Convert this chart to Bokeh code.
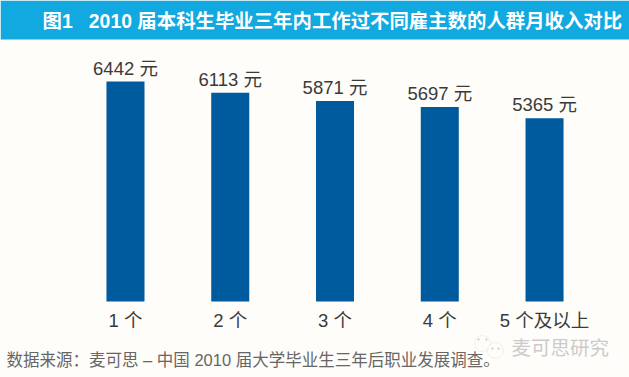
from bokeh.plotting import figure
from bokeh.models import BoxAnnotation, Label, ColumnDataSource, FixedTicker, Range1d
from bokeh.core.properties import value
from bokeh.embed import file_html
from bokeh.resources import INLINE

positions = [0, 1, 2, 3, 4]
categories = ["1 个", "2 个", "3 个", "4 个", "5 个及以上"]
incomes = [6442, 6113, 5871, 5697, 5365]
value_labels = ["6442 元", "6113 元", "5871 元", "5697 元", "5365 元"]
title_text = "图1\u00a0\u00a0\u00a02010 届本科生毕业三年内工作过不同雇主数的人群月收入对比"
source_text = "数据来源\uff1a麦可思 – 中国 2010 届大学毕业生三年后职业发展调查。"
watermark_text = "麦可思研究"

FONT = "Liberation Sans, Noto Sans CJK SC"
W, H = 629, 377
BG = "#FEFDF9"
PX = 6442 / 220  # data units per pixel

p = figure(width=W, height=H, output_backend="svg", toolbar_location=None,
           x_range=Range1d(-1.193, 4.811), y_range=Range1d(-76 * PX, 301 * PX),
           min_border_left=0, min_border_right=0, min_border_top=0, min_border_bottom=0,
           background_fill_color=BG, border_fill_color=BG,
           outline_line_color=None)
p.grid.visible = False
p.yaxis.visible = False
ax = p.xaxis[0]
ax.fixed_location = 0
ax.ticker = FixedTicker(ticks=positions)
ax.major_label_overrides = {a: b for a, b in zip(positions, categories)}
ax.axis_line_color = None
ax.major_tick_line_color = None
ax.minor_tick_line_color = None
ax.major_label_standoff = 2
ax.major_label_text_font = FONT
ax.major_label_text_font_size = "18.5px"
ax.major_label_text_color = "#3A3A3A"

src = ColumnDataSource(dict(x=positions, top=incomes, label=value_labels))
p.vbar(x="x", top="top", bottom=0, width=0.363, source=src, fill_color="#005A9E", line_color=None)
p.text(x="x", y="top", text="label", source=src, text_align="center", text_baseline="bottom",
       y_offset=-3, text_font=value(FONT), text_font_size="18.5px", text_color="#3A3A3A")

p.add_layout(BoxAnnotation(left=0, right=W, top=H, bottom=H - 39,
                           left_units="screen", right_units="screen",
                           top_units="screen", bottom_units="screen",
                           fill_color="#12A8E0", fill_alpha=1, line_color=None))
p.add_layout(Label(x=42, y=H - 20, x_units="screen", y_units="screen", text=title_text,
                   text_font=FONT, text_font_style="bold", text_font_size="19.4px",
                   text_color="#FFFFFF", text_baseline="middle"))
p.add_layout(Label(x=6, y=H - 359, x_units="screen", y_units="screen", text=source_text,
                   text_font=FONT, text_font_size="16.5px",
                   text_color="#666666", text_baseline="middle"))


def ring(cx, cy, r, fill=BG, line="#CFCFCF"):
    """Watermark bubble, drawn as a round box in canvas pixels."""
    p.add_layout(BoxAnnotation(left=cx - r, right=cx + r, top=H - cy + r, bottom=H - cy - r,
                               left_units="screen", right_units="screen",
                               top_units="screen", bottom_units="screen",
                               border_radius=r, fill_color=fill, fill_alpha=1,
                               line_color=line, line_width=1))


ring(482, 343, 8)
ring(495, 350, 8)
for cx, cy in [(478, 339), (486, 339), (492, 348), (498, 348)]:
    ring(cx, cy, 1, fill="#CFCFCF")
p.add_layout(Label(x=511, y=H - 347, x_units="screen", y_units="screen", text=watermark_text,
                   text_font=FONT, text_font_size="19.5px",
                   text_color="#CBCBCB", text_baseline="middle"))

open("out.html", "w").write(file_html(p, INLINE))
